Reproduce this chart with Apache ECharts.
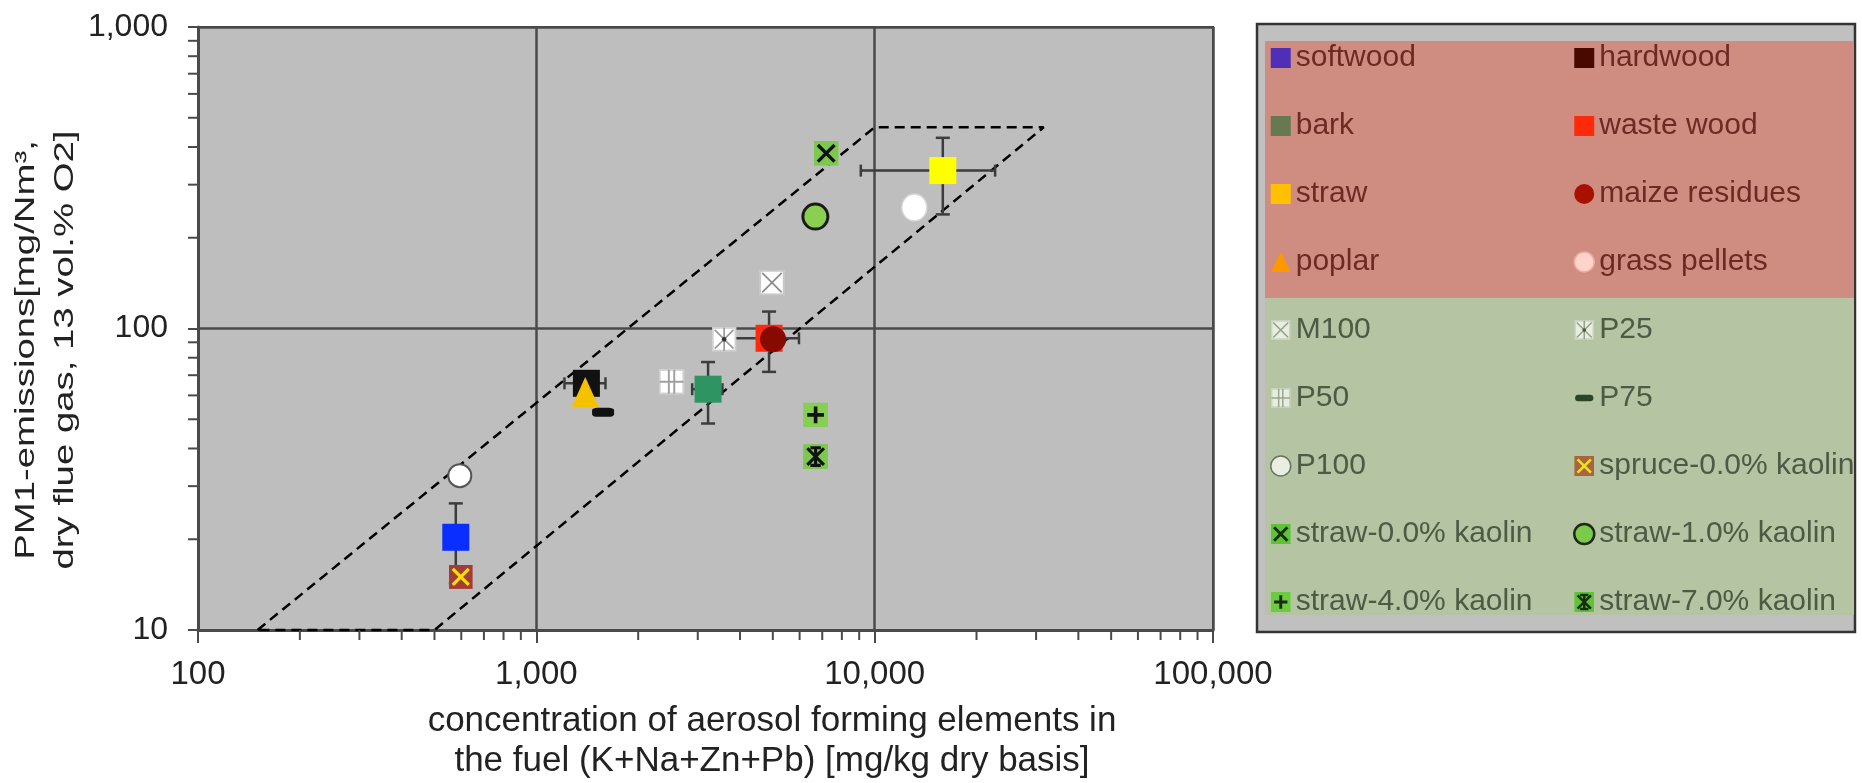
<!DOCTYPE html>
<html lang="en">
<head>
  <meta charset="UTF-8" />
  <title>PM1 emissions vs. aerosol forming elements</title>
  <script src="https://cdn.jsdelivr.net/npm/echarts@6.0.0/dist/echarts.min.js"></script>
  <style>
    html, body { margin: 0; padding: 0; background: #ffffff; }
    #main { width: 1862px; height: 783px; }
  </style>
</head>
<body>
  <div id="main"></div>

  <script>
    // one point per fuel / test series
    const names = ['softwood', 'hardwood', 'bark', 'waste wood', 'straw', 'maize residues', 'poplar', 'grass pellets',
      'M100', 'P25', 'P50', 'P75', 'P100', 'spruce-0.0% kaolin', 'straw-0.0% kaolin', 'straw-1.0% kaolin',
      'straw-4.0% kaolin', 'straw-7.0% kaolin'];
    const fuelConc = [578, 1406, 3218, 4874, 15900, 5008, 1395, 13100, 4970, 3590, 2510, 1575, 594, 598, 7190, 6680, 6690, 6690];
    const pm1 = [20.3, 65.8, 62.9, 92.8, 334, 92.1, 61.6, 252, 142, 92.1, 66.6, 52.7, 32.5, 15.0, 381, 235, 51.7, 37.6];

    // error bars (absolute +/-)
    const errFuel = ['softwood', 'hardwood', 'bark', 'waste wood', 'straw'];
    const errX = [0, 195, 330, 1100, 6800];
    const errY = [6, 0, 14.5, 21, 95];

    // dashed band
    const bandX = [150, 10000, 31600, 500, 150];
    const bandY = [10, 465, 465, 10, 10];

    // axis ticks
    const xTicks = [100, 1000, 10000, 100000];
    const xTickLabels = ['100', '1,000', '10,000', '100,000'];
    const yTicks = [10, 100, 1000];
    const yTickLabels = ['10', '100', '1,000'];
    const xMinor = [200, 300, 400, 500, 600, 700, 800, 900, 2000, 3000, 4000, 5000, 6000, 7000, 8000, 9000,
      20000, 30000, 40000, 50000, 60000, 70000, 80000, 90000];
    const yMinor = [20, 30, 40, 50, 60, 70, 80, 90, 200, 300, 400, 500, 600, 700, 800, 900];

    // legend columns
    const legendLeft = ['softwood', 'bark', 'straw', 'poplar', 'M100', 'P50', 'P100', 'straw-0.0% kaolin', 'straw-4.0% kaolin'];
    const legendRight = ['hardwood', 'waste wood', 'maize residues', 'grass pellets', 'P25', 'P75', 'spruce-0.0% kaolin',
      'straw-1.0% kaolin', 'straw-7.0% kaolin'];
    const pinkRows = ['softwood', 'bark', 'straw', 'poplar', 'hardwood', 'waste wood', 'maize residues', 'grass pellets'];

    const FONT = '"Liberation Sans", Arial, sans-serif';

    function svg(body) {
      return 'image://data:image/svg+xml;charset=utf-8,' + encodeURIComponent(
        '<svg xmlns="http://www.w3.org/2000/svg" width="48" height="48" viewBox="0 0 24 24">' + body + '</svg>');
    }
    const X = 'M4 4L20 20M20 4L4 20';

    // marker look in the plot
    const mk = {
      'softwood': { symbol: 'rect', size: 27, style: { color: '#0a2eff' } },
      'hardwood': { symbol: 'rect', size: 27, style: { color: '#111111' } },
      'bark': { symbol: 'rect', size: 27, style: { color: '#2e9462' } },
      'waste wood': { symbol: 'rect', size: 27, style: { color: '#ff2a0e' } },
      'straw': { symbol: 'rect', size: 27, style: { color: '#ffff00' } },
      'maize residues': { symbol: 'circle', size: 26, style: { color: '#860a00' } },
      'poplar': { symbol: 'triangle', size: [27, 30], style: { color: '#f5c200' } },
      'grass pellets': { symbol: 'circle', size: [25, 27], style: { color: '#ffffff', borderColor: '#d6d6d6', borderWidth: 1.5 } },
      'M100': { symbol: svg('<rect x="1" y="1" width="22" height="22" fill="#fff" stroke="#c8c8c8" stroke-width="2"/><path d="M3 3L21 21M21 3L3 21" stroke="#8c8c8c" stroke-width="1.6"/>'), size: 26 },
      'P25': { symbol: svg('<rect x="1" y="1" width="22" height="22" fill="#fff" stroke="#d0d0d0" stroke-width="2"/><path d="M3 3L21 21M21 3L3 21M12 1V23" stroke="#9a9a9a" stroke-width="1.6"/><circle cx="12" cy="12" r="2.2" fill="#333"/>'), size: 25 },
      'P50': { symbol: svg('<rect x="1" y="1" width="22" height="22" fill="#fff" stroke="#d0d0d0" stroke-width="2"/><path d="M9.5 1V23M14.5 1V23M1 12H23" stroke="#a0a0a0" stroke-width="1.8"/>'), size: 26 },
      'P75': { symbol: 'roundRect', size: [22, 9], style: { color: '#111111' } },
      'P100': { symbol: 'circle', size: 23, style: { color: '#ffffff', borderColor: '#555555', borderWidth: 2 } },
      'spruce-0.0% kaolin': { symbol: svg('<rect width="24" height="24" fill="#a23c36"/><path d="' + X + '" stroke="#ffe000" stroke-width="3.2"/>'), size: 24 },
      'straw-0.0% kaolin': { symbol: svg('<rect width="24" height="24" fill="#7dc84e"/><path d="' + X + '" stroke="#111" stroke-width="3.2"/>'), size: 25 },
      'straw-1.0% kaolin': { symbol: 'circle', size: 25, style: { color: '#8bcf50', borderColor: '#1b1b1b', borderWidth: 3 } },
      'straw-4.0% kaolin': { symbol: svg('<rect width="24" height="24" fill="#86cf52"/><path d="M12 4V20M4 12H20" stroke="#111" stroke-width="3.5"/>'), size: 25 },
      'straw-7.0% kaolin': { symbol: svg('<rect width="24" height="24" fill="#7dc84e"/><path d="' + X + 'M12 3V21M7 3.5H17M7 20.5H17" stroke="#111" stroke-width="3"/>'), size: 25 }
    };

    // legend icons are tinted by the coloured panels
    const lg = {
      'softwood': { icon: 'rect', itemStyle: { color: '#4f2fb8' } },
      'hardwood': { icon: 'rect', itemStyle: { color: '#480a00' } },
      'bark': { icon: 'rect', itemStyle: { color: '#677a4f' } },
      'waste wood': { icon: 'rect', itemStyle: { color: '#ff2a0a' } },
      'straw': { icon: 'rect', itemStyle: { color: '#ffc000' } },
      'maize residues': { icon: 'circle', itemStyle: { color: '#a81000' } },
      'poplar': { icon: 'triangle', itemStyle: { color: '#ff9800' } },
      'grass pellets': { icon: 'circle', itemStyle: { color: '#ffd2ca', borderColor: '#eeaaa0', borderWidth: 1.5 } },
      'M100': { icon: svg('<rect x="1" y="1" width="22" height="22" fill="#e6eede" stroke="#c9d2c0" stroke-width="2"/><path d="M3 3L21 21M21 3L3 21" stroke="#95a08c" stroke-width="1.8"/>') },
      'P25': { icon: svg('<rect x="1" y="1" width="22" height="22" fill="#e6eede" stroke="#c9d2c0" stroke-width="2"/><path d="M3 3L21 21M21 3L3 21M12 1V23" stroke="#95a08c" stroke-width="1.8"/><circle cx="12" cy="12" r="2.2" fill="#4a5444"/>') },
      'P50': { icon: svg('<rect x="1" y="1" width="22" height="22" fill="#e6eede" stroke="#c9d2c0" stroke-width="2"/><path d="M9.5 1V23M14.5 1V23M1 12H23" stroke="#9aa592" stroke-width="1.8"/>') },
      'P75': { icon: svg('<rect x="1" y="8" width="22" height="8" rx="4" fill="#2d4326"/>') },
      'P100': { icon: 'circle', itemStyle: { color: '#e8efe0', borderColor: '#6a7462', borderWidth: 1.5 } },
      'spruce-0.0% kaolin': { icon: svg('<rect width="24" height="24" fill="#a8643c"/><path d="' + X + '" stroke="#f0e020" stroke-width="3.2"/>') },
      'straw-0.0% kaolin': { icon: svg('<rect width="24" height="24" fill="#5cc436"/><path d="' + X + '" stroke="#1a2c10" stroke-width="3.5"/>') },
      'straw-1.0% kaolin': { icon: 'circle', itemStyle: { color: '#7ccb48', borderColor: '#1f2a18', borderWidth: 2.5 } },
      'straw-4.0% kaolin': { icon: svg('<rect width="24" height="24" fill="#6ccc40"/><path d="M12 4V20M4 12H20" stroke="#1a2c10" stroke-width="3.5"/>') },
      'straw-7.0% kaolin': { icon: svg('<rect width="24" height="24" fill="#5cc436"/><path d="' + X + 'M12 3V21M7 3.5H17M7 20.5H17" stroke="#1a2c10" stroke-width="3"/>') }
    };

    function legendItem(n) {
      return Object.assign({ name: n, textStyle: { color: pinkRows.includes(n) ? '#6b2a22' : '#4d5a44' } }, lg[n]);
    }

    function legendCol(left, data) {
      return {
        orient: 'vertical', left: left, top: 43, padding: 0,
        itemWidth: 20, itemHeight: 20, itemGap: 38,
        selectedMode: false,
        textStyle: { fontFamily: FONT, fontSize: 30 },
        data: data.map(legendItem)
      };
    }

    const pointSeries = names.map((n, i) => ({
      name: n,
      type: 'scatter',
      z: 5,
      silent: true,
      symbol: mk[n].symbol,
      symbolSize: mk[n].size,
      itemStyle: Object.assign({ opacity: 1 }, mk[n].style || {}),
      data: [[fuelConc[i], pm1[i]]]
    }));

    const errorSeries = {
      type: 'custom',
      z: 4,
      silent: true,
      data: errFuel.map((n, k) => {
        const i = names.indexOf(n);
        return [fuelConc[i], pm1[i], errX[k], errY[k]];
      }),
      renderItem: (params, api) => {
        const x = api.value(0), y = api.value(1), ex = api.value(2), ey = api.value(3);
        const st = { stroke: '#3c3c3c', lineWidth: 2.5 };
        const ch = [];
        const seg = (x1, y1, x2, y2) => ch.push({ type: 'line', shape: { x1, y1, x2, y2 }, style: st });
        if (ex > 0) {
          const a = api.coord([x - ex, y]), b = api.coord([x + ex, y]);
          seg(a[0], a[1], b[0], b[1]);
          seg(a[0], a[1] - 6, a[0], a[1] + 6);
          seg(b[0], b[1] - 6, b[0], b[1] + 6);
        }
        if (ey > 0) {
          const t = api.coord([x, y + ey]), b = api.coord([x, y - ey]);
          seg(t[0], t[1], b[0], b[1]);
          seg(t[0] - 7, t[1], t[0] + 7, t[1]);
          seg(b[0] - 7, b[1], b[0] + 7, b[1]);
        }
        return { type: 'group', children: ch };
      }
    };

    const tickStyle = { stroke: '#4a4a4a', lineWidth: 2 };
    const xMinorSeries = {
      type: 'custom', z: 6, silent: true,
      data: xMinor.map(v => [v, yTicks[0]]),
      renderItem: (params, api) => {
        const p = api.coord([api.value(0), api.value(1)]);
        return { type: 'line', shape: { x1: p[0], y1: p[1], x2: p[0], y2: p[1] + 10 }, style: tickStyle };
      }
    };
    const yMinorSeries = {
      type: 'custom', z: 6, silent: true,
      data: yMinor.map(v => [xTicks[0], v]),
      renderItem: (params, api) => {
        const p = api.coord([api.value(0), api.value(1)]);
        return { type: 'line', shape: { x1: p[0] - 10, y1: p[1], x2: p[0], y2: p[1] }, style: tickStyle };
      }
    };

    const bandSeries = {
      type: 'line', z: 3, silent: true, clip: false,
      symbol: 'none',
      lineStyle: { color: '#000000', width: 2.5, type: [10, 6] },
      data: bandX.map((x, i) => [x, bandY[i]])
    };

    const axisColor = '#4a4a4a';
    const chart = echarts.init(document.getElementById('main'));
    chart.setOption({
      animation: false,
      backgroundColor: '#ffffff',
      grid: {
        left: 198, top: 27, width: 1015, height: 603,
        show: true, backgroundColor: '#bebebe', borderColor: axisColor, borderWidth: 2
      },
      xAxis: {
        type: 'log', logBase: 10, min: xTicks[0], max: xTicks[xTicks.length - 1],
        axisLine: { lineStyle: { color: axisColor, width: 3 } },
        axisTick: { show: true, length: 13, lineStyle: { color: axisColor, width: 2 } },
        splitLine: { show: true, lineStyle: { color: axisColor, width: 2.5 } },
        axisLabel: {
          showMinLabel: true, showMaxLabel: true, margin: 28,
          fontFamily: FONT, fontSize: 33, color: '#222',
          formatter: v => xTickLabels[Math.round(Math.log10(v)) - 2]
        }
      },
      yAxis: {
        type: 'log', logBase: 10, min: yTicks[0], max: yTicks[yTicks.length - 1],
        axisLine: { lineStyle: { color: axisColor, width: 3 } },
        axisTick: { show: true, length: 10, lineStyle: { color: axisColor, width: 2 } },
        splitLine: { show: true, lineStyle: { color: axisColor, width: 2.5 } },
        axisLabel: {
          showMinLabel: true, showMaxLabel: true, margin: 30,
          fontFamily: FONT, fontSize: 32, color: '#222',
          formatter: v => yTickLabels[Math.round(Math.log10(v)) - 1]
        }
      },
      legend: [legendCol(1270, legendLeft), legendCol(1573, legendRight)],
      graphic: [
        { type: 'rect', z: 0, shape: { x: 1257, y: 24, width: 598, height: 608 },
          style: { fill: '#c0c0c0', stroke: '#333333', lineWidth: 2.5 } },
        { type: 'rect', z: 1, shape: { x: 1265, y: 41, width: 589, height: 257 }, style: { fill: '#cf8c80' } },
        { type: 'rect', z: 1, shape: { x: 1265, y: 298, width: 589, height: 317 }, style: { fill: '#b5c4a2' } },
        { type: 'text', z: 10, x: 46, y: 350, rotation: Math.PI / 2, scaleX: 1.42,
          style: { text: 'PM1-emissions[mg/Nm³,\ndry flue gas, 13 vol.% O2]', font: '27px ' + FONT,
            fill: '#222', align: 'center', verticalAlign: 'middle', lineHeight: 39 } },
        { type: 'text', z: 10, x: 772, y: 741,
          style: { text: 'concentration of aerosol forming elements in\nthe fuel (K+Na+Zn+Pb) [mg/kg dry basis]',
            font: '35px ' + FONT, fill: '#222', align: 'center', verticalAlign: 'middle', lineHeight: 40 } }
      ],
      series: [bandSeries, errorSeries].concat(pointSeries, [xMinorSeries, yMinorSeries])
    });
  </script>
</body>
</html>
